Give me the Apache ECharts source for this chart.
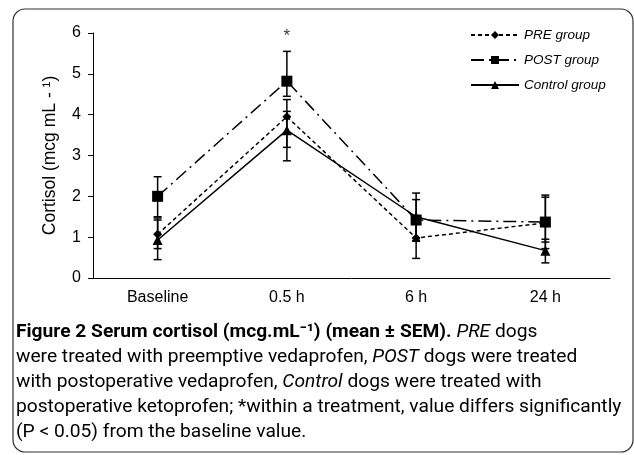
<!DOCTYPE html>
<html><head><meta charset="utf-8">
<script src="https://cdn.jsdelivr.net/npm/echarts@6/dist/echarts.min.js"></script>
<style>html,body{margin:0;padding:0;background:#fff}#c{width:634px;height:455px}</style>
</head><body><div id="c"></div>
<script>
const categories = ['Baseline', '0.5 h', '6 h', '24 h'];
const yTicks = [0, 1, 2, 3, 4, 5, 6];
const preMean = [1.07, 3.95, 0.98, 1.35];
const preLow = [0.72, 3.2, 0.48, 0.72];
const preHigh = [1.47, 4.08, 1.48, 1.98];
const postMean = [2.0, 4.82, 1.42, 1.37];
const postLow = [1.5, 4.45, 0.92, 0.88];
const postHigh = [2.48, 5.55, 1.92, 2.03];
const ctrlMean = [0.93, 3.62, 1.5, 0.67];
const ctrlLow = [0.45, 2.87, 0.9, 0.37];
const ctrlHigh = [1.42, 4.37, 2.08, 0.95];
const sigCategory = '0.5 h';
const sigY = 5.92;
const captionLines = [
  [['b', 'Figure 2 Serum cortisol (mcg.mL⁻¹) (mean ± SEM).'], ['n', ' '], ['i', 'PRE'], ['n', ' dogs']],
  [['n', 'were treated with preemptive vedaprofen, '], ['i', 'POST'], ['n', ' dogs were treated']],
  [['n', 'with postoperative vedaprofen, '], ['i', 'Control'], ['n', ' dogs were treated with']],
  [['n', 'postoperative ketoprofen; *within a treatment, value differs significantly']],
  [['n', '(P < 0.05) from the baseline value.']]
];

const chart = echarts.init(document.getElementById('c'), null, {renderer: 'canvas'});
const F = '"Liberation Sans", Arial, sans-serif';
const CF = 'Roboto, "Open Sans", sans-serif';

function errSeries(low, high) {
  const data = categories.map((c, i) => [i, low[i], high[i]]);
  return {
    type: 'custom', silent: true, z: 3,
    data: data,
    renderItem: function (params, api) {
      const x = api.value(0);
      const lo = api.coord([x, api.value(1)]);
      const hi = api.coord([x, api.value(2)]);
      const w = 4;
      const st = {stroke: '#000', lineWidth: 1.5};
      return {type: 'group', children: [
        {type: 'line', shape: {x1: lo[0], y1: lo[1], x2: hi[0], y2: hi[1]}, style: st},
        {type: 'line', shape: {x1: lo[0] - w, y1: lo[1], x2: lo[0] + w, y2: lo[1]}, style: st},
        {type: 'line', shape: {x1: hi[0] - w, y1: hi[1], x2: hi[0] + w, y2: hi[1]}, style: st}
      ]};
    }
  };
}

const CS = 19.2;
const rich = {
  b: {fontFamily: CF, fontSize: CS, fontWeight: 'bold', color: '#222'},
  n: {fontFamily: CF, fontSize: CS, color: '#3a3a3a'},
  i: {fontFamily: CF, fontSize: CS, fontStyle: 'italic', color: '#3a3a3a'}
};
const captionGraphics = captionLines.map((parts, k) => ({
  type: 'text', left: 16, top: 323 + k * 25,
  style: {text: parts.map(p => '{' + p[0] + '|' + p[1] + '}').join(''), rich: rich}
}));

chart.setOption({
  animation: false,
  backgroundColor: '#fff',
  grid: {left: 93, right: 24, top: 33, bottom: 177},
  legend: {
    orient: 'vertical', left: 470, top: 28, padding: 0, itemWidth: 48, itemHeight: 10, itemGap: 11,
    textStyle: {fontFamily: F, fontSize: 13.5, fontStyle: 'italic', color: '#000'},
    data: ['PRE group', 'POST group', 'Control group']
  },
  xAxis: {
    type: 'category', data: categories, boundaryGap: true,
    axisLine: {lineStyle: {color: '#000', width: 1}},
    axisTick: {show: false},
    axisLabel: {fontFamily: F, fontSize: 16, color: '#000', margin: 12}
  },
  yAxis: {
    type: 'value', min: 0, max: 6, interval: 1,
    name: 'Cortisol (mcg mL - ¹)', nameLocation: 'middle', nameGap: 34,
    nameTextStyle: {fontFamily: F, fontSize: 17.5, color: '#000'},
    axisLine: {show: true, lineStyle: {color: '#000', width: 1}},
    axisTick: {show: true, length: 5, lineStyle: {color: '#000'}},
    axisLabel: {fontFamily: F, fontSize: 16, color: '#000', margin: 12,
      formatter: v => yTicks.includes(v) ? String(v) : ''},
    splitLine: {show: false}
  },
  graphic: [
    {type: 'rect', shape: {x: 13, y: 9, width: 620, height: 443, r: 12},
     style: {fill: 'none', stroke: '#333', lineWidth: 1.2}, z: -1}
  ].concat(captionGraphics),
  series: [
    errSeries(preLow, preHigh),
    errSeries(postLow, postHigh),
    errSeries(ctrlLow, ctrlHigh),
    {name: 'PRE group', type: 'line', data: preMean, symbol: 'diamond', symbolSize: 9,
     itemStyle: {color: '#000'}, lineStyle: {color: '#000', width: 1.5, type: [4, 3]}, z: 4},
    {name: 'POST group', type: 'line', data: postMean, symbol: 'rect', symbolSize: 11,
     itemStyle: {color: '#000'}, lineStyle: {color: '#000', width: 1.5, type: [13, 5, 2, 5]}, z: 4},
    {name: 'Control group', type: 'line', data: ctrlMean, symbol: 'triangle', symbolSize: 10,
     itemStyle: {color: '#000'}, lineStyle: {color: '#000', width: 1.5}, z: 4},
    {type: 'scatter', data: [[sigCategory, sigY]], symbolSize: 0, silent: true,
     label: {show: true, formatter: '*', position: 'inside', fontFamily: F, fontSize: 17, color: '#000'}}
  ]
});
</script></body></html>
